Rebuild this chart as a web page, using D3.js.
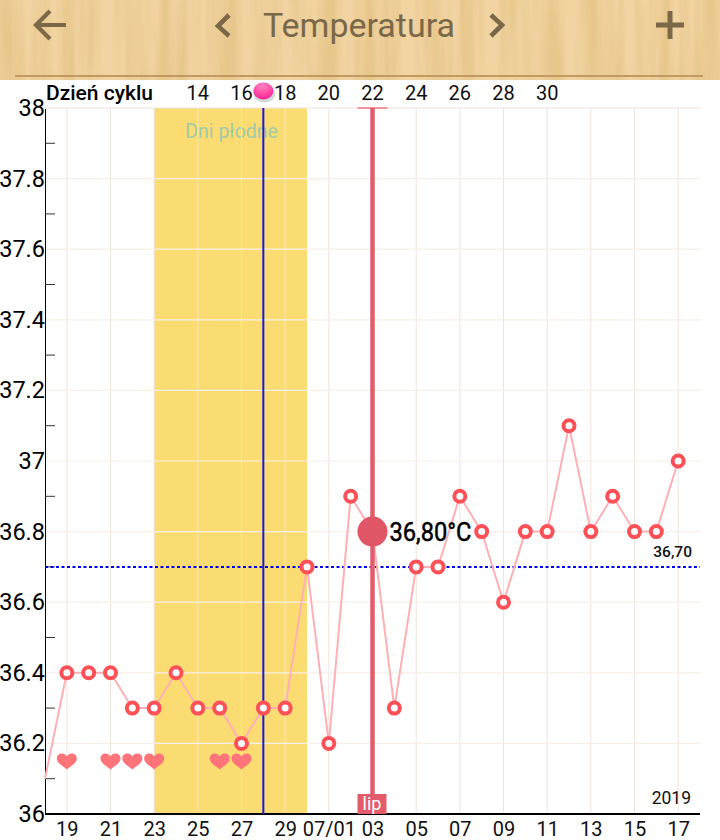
<!DOCTYPE html>
<html>
<head>
<meta charset="utf-8">
<script src="https://cdn.jsdelivr.net/npm/d3@7"></script>
<style>
html, body { margin: 0; padding: 0; background: #fff; overflow: hidden; }
svg { display: block; font-family: Roboto, sans-serif; }
svg text { font-family: Roboto, sans-serif; }
.tick line, .domain { shape-rendering: crispEdges; }
</style>
</head>
<body>
<svg id="chart" width="720" height="840"></svg>
<script>
// dates under the chart, first one sits on the y axis
const dates = ["18","19","20","21","22","23","24","25","26","27","28","29","30",
  "07/01","02","03","04","05","06","07","08","09","10","11","12","13","14","15","16","17"];
const temps = [36.1,36.4,36.4,36.4,36.3,36.3,36.4,36.3,36.3,36.2,36.3,36.3,36.7,
  36.2,36.9,36.8,36.3,36.7,36.7,36.9,36.8,36.6,36.8,36.8,37.1,36.8,36.9,36.8,36.8,37.0];
const cycleDays = ["14","16","18","20","22","24","26","28","30"];
const cycleDayDates = ["25","27","29","07/01","03","05","07","09","11"];
const heartDates = ["19","21","22","23","26","27"];
const yTicks = [36,36.2,36.4,36.6,36.8,37,37.2,37.4,37.6,37.8,38];
const yMinor = [36.1,36.3,36.5,36.7,36.9,37.1,37.3,37.5,37.7,37.9];
const fertileStart = "23", fertileEnd = "30";
const ovulationDate = "28";
const selectedDate = "03", selectedLabel = "36,80°C", selectedMonth = "lip";
const coverLine = 36.7, coverLabel = "36,70";
const year = "2019";

const svg = d3.select("#chart");
const defs = svg.append("defs");

const x = d3.scaleLinear().domain([0, dates.length]).range([45, 700]);
const y = d3.scaleLinear().domain([36, 38]).range([814, 108]);
const xd = d => x(dates.indexOf(d));

// header, wood look
const wood = defs.append("filter").attr("id", "wood")
  .attr("x", 0).attr("y", 0).attr("width", 1).attr("height", 1);
wood.append("feTurbulence").attr("type", "fractalNoise")
  .attr("baseFrequency", "0.05 0.003").attr("numOctaves", 4).attr("seed", 7);
wood.append("feColorMatrix").attr("values",
  "0 0 0 0 0.80  0 0 0 0 0.57  0 0 0 0 0.26  3.2 0 0 0 -1.25");
wood.append("feComposite").attr("in2", "SourceGraphic").attr("operator", "over");

svg.append("rect").attr("width", 720).attr("height", 80)
  .attr("fill", "#f1d4a2").attr("filter", "url(#wood)");
svg.append("line").attr("x1", 15).attr("x2", 703).attr("y1", 76).attr("y2", 76)
  .attr("stroke", "#c09a62").attr("stroke-width", 2);

const headerColor = "#7a6849";
const icon = d => svg.append("path").attr("d", d).attr("fill", "none")
  .attr("stroke", headerColor).attr("stroke-width", 4.2);
icon("M66 25H37M50 11L36 25L50 39");
icon("M229 15L218 26L229 36").attr("stroke-width", 4.6);
icon("M491 15L502 25L491 36").attr("stroke-width", 4.6);
icon("M656 25H684M670 11V39").attr("stroke-width", 5);
svg.append("text").attr("x", 359).attr("y", 37).attr("text-anchor", "middle")
  .attr("font-size", 34).attr("fill", headerColor).text("Temperatura");

// fertile days
svg.append("rect")
  .attr("x", xd(fertileStart)).attr("width", xd(fertileEnd) - xd(fertileStart))
  .attr("y", y(38)).attr("height", y(36) - y(38))
  .attr("fill", "#fbdc72");
svg.append("text").attr("x", (xd(fertileStart) + xd(fertileEnd)) / 2 + 1).attr("y", 138)
  .attr("text-anchor", "middle").attr("font-size", 19.5).attr("fill", "#a3c9a5")
  .text("Dni płodne");

// grid
const oddDates = dates.filter((d, i) => i % 2 == 1);
svg.append("g").selectAll("line").data(oddDates).join("line")
  .attr("x1", xd).attr("x2", xd).attr("y1", y(38)).attr("y2", y(36))
  .attr("stroke", "#f0e3dc").attr("stroke-width", 1);
svg.append("g").selectAll("line").data(yTicks.slice(1)).join("line")
  .attr("x1", x(0)).attr("x2", x(dates.length)).attr("y1", y).attr("y2", y)
  .attr("stroke", d => d == 38 ? "#f0e3dc" : "#f7efe8").attr("stroke-width", 1.2);

// axes
const yAxis = svg.append("g").attr("transform", `translate(${x(0)},0)`)
  .call(d3.axisLeft(y).tickValues(yTicks).tickSize(0).tickPadding(0).tickFormat(d3.format("")));
yAxis.select(".domain").attr("stroke", "#000").attr("stroke-width", 1.5);
yAxis.selectAll("text").attr("font-size", 23.5).attr("fill", "#000");
svg.append("g").selectAll("line").data(yMinor).join("line")
  .attr("x1", x(0)).attr("x2", x(0) + 10).attr("y1", y).attr("y2", y)
  .attr("stroke", "#333").attr("stroke-width", 1);

const xAxis = svg.append("g").attr("transform", `translate(0,${y(36)})`)
  .call(d3.axisBottom(d3.scalePoint().domain(dates).range([x(0), x(dates.length - 1)]))
    .tickValues(oddDates).tickSize(0).tickPadding(8));
xAxis.select(".domain").attr("d", `M${x(0)},0H${x(dates.length)}`)
  .attr("stroke", "#000").attr("stroke-width", 1.5);
xAxis.selectAll("text").attr("font-size", 20).attr("fill", "#111");

// cycle day row
svg.append("text").attr("x", 46).attr("y", 100).attr("font-size", 21)
  .attr("font-weight", 500).attr("fill", "#000").text("Dzień cyklu");
svg.append("g").selectAll("text").data(cycleDays).join("text")
  .attr("x", (d, i) => xd(cycleDayDates[i])).attr("y", 100)
  .attr("text-anchor", "middle").attr("font-size", 20).attr("fill", "#111").text(d => d);

// cover line
svg.append("line").attr("x1", x(0)).attr("x2", x(dates.length))
  .attr("y1", y(coverLine)).attr("y2", y(coverLine))
  .attr("stroke", "#0000f0").attr("stroke-width", 2).attr("stroke-dasharray", "3,2.5");
svg.append("text").attr("x", 692).attr("y", 557).attr("text-anchor", "end")
  .attr("font-size", 15.5).attr("font-weight", 500).attr("fill", "#111").text(coverLabel);
svg.append("text").attr("x", 691).attr("y", 804).attr("text-anchor", "end")
  .attr("font-size", 17.5).attr("fill", "#111").text(year);

// ovulation
svg.append("line").attr("x1", xd(ovulationDate)).attr("x2", xd(ovulationDate))
  .attr("y1", y(38)).attr("y2", y(36))
  .attr("stroke", "#1a1ad6").attr("stroke-width", 2);

// temperature line
const line = d3.line().x((d, i) => x(i)).y(d => y(d));
svg.append("path").attr("d", line(temps)).attr("fill", "none")
  .attr("stroke", "#ffb0b4").attr("stroke-width", 2);

// selected day
const sx = xd(selectedDate);
svg.append("line").attr("x1", sx - 15).attr("x2", sx + 15).attr("y1", y(38)).attr("y2", y(38))
  .attr("stroke", "#f07580").attr("stroke-width", 1.5);
svg.append("line").attr("x1", sx).attr("x2", sx).attr("y1", y(38)).attr("y2", y(36))
  .attr("stroke", "#e25c6c").attr("stroke-width", 4.5);
svg.append("rect").attr("x", sx - 15).attr("width", 29).attr("y", y(36) - 20).attr("height", 20)
  .attr("fill", "#e25c6c");
svg.append("text").attr("x", sx - 0.5).attr("y", y(36) - 4).attr("text-anchor", "middle")
  .attr("font-size", 18).attr("fill", "#fff").text(selectedMonth);

// points
svg.append("g").selectAll("circle")
  .data(temps.map((t, i) => ({ t, i })).filter(d => d.i > 0 && dates[d.i] != selectedDate))
  .join("circle")
  .attr("cx", d => x(d.i)).attr("cy", d => y(d.t)).attr("r", 5.5)
  .attr("fill", "#fff").attr("stroke", "#fd5057").attr("stroke-width", 4);

svg.append("circle").attr("cx", sx).attr("cy", y(temps[dates.indexOf(selectedDate)])).attr("r", 15)
  .attr("fill", "#e05666");
svg.append("text").attr("x", sx + 17).attr("y", y(temps[dates.indexOf(selectedDate)]) + 9)
  .attr("font-size", 25).attr("textLength", 82)
  .attr("lengthAdjust", "spacingAndGlyphs").attr("fill", "#000").attr("stroke", "#000")
  .attr("stroke-width", 0.5).text(selectedLabel);

// hearts
const heart = "M0,8.5C-3,5.5 -10,2.5 -10,-2.5C-10,-6 -7.5,-7.5 -5,-7.5C-3,-7.5 -1,-6.5 0,-4.5C1,-6.5 3,-7.5 5,-7.5C7.5,-7.5 10,-6 10,-2.5C10,2.5 3,5.5 0,8.5Z";
svg.append("g").selectAll("path").data(heartDates).join("path")
  .attr("d", heart).attr("transform", d => `translate(${xd(d)},761)`)
  .attr("fill", "#ff7479");

// ovulation ball
const ball = defs.append("radialGradient").attr("id", "ball")
  .attr("cx", "45%").attr("cy", "20%").attr("r", "80%");
ball.append("stop").attr("offset", "0%").attr("stop-color", "#ff86c0");
ball.append("stop").attr("offset", "100%").attr("stop-color", "#fb1f96");
svg.append("ellipse").attr("cx", xd(ovulationDate) + 1).attr("cy", 94).attr("rx", 11).attr("ry", 8.5)
  .attr("fill", "#bbb").attr("opacity", 0.6);
svg.append("ellipse").attr("cx", xd(ovulationDate)).attr("cy", 91).attr("rx", 10).attr("ry", 8.5)
  .attr("fill", "url(#ball)");
</script>
</body>
</html>
